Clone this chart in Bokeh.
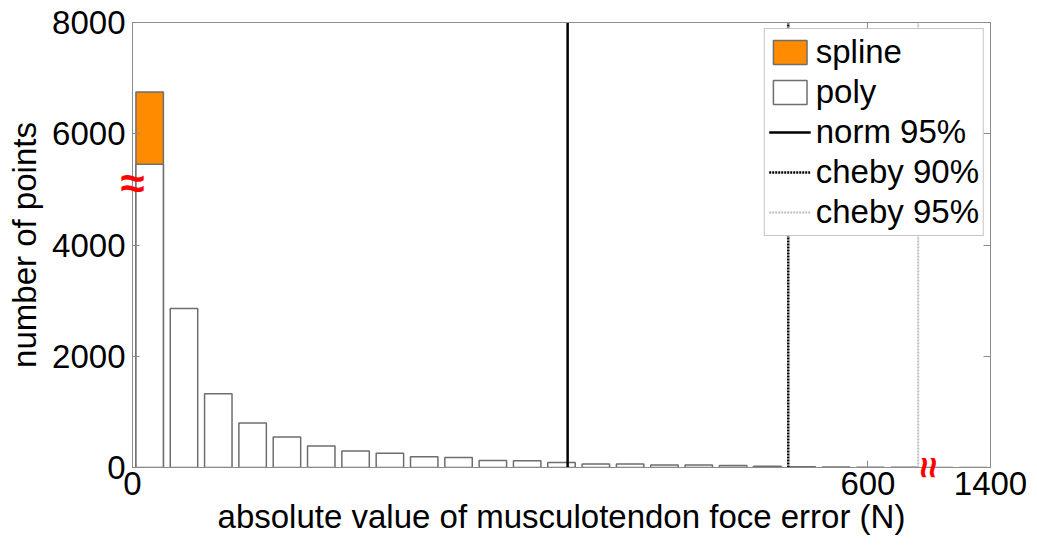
import math

from bokeh.plotting import figure
from bokeh.models import (LinearAxis, FixedTicker, Range1d, Legend, LegendItem, Label)
from bokeh.embed import file_html
from bokeh.resources import INLINE

# Histogram of absolute musculotendon force error, bins of 28 N
bin_width = 28
poly_counts = [5450, 2860, 1325, 800, 550, 385, 295, 258, 192, 180, 126, 120,
               90, 65, 65, 47, 45, 36, 23, 15, 10, 6, 3, 2, 1]
spline_counts = [6750]

# Confidence thresholds (N)
norm_95 = 355
cheby_90 = 535
cheby_95 = 641

# Axis ticks (the right end of the x axis sits past a break)
x_ticks = [0, 600, 700]
x_tick_labels = ["0", "600", "1400"]
y_ticks = [0, 2000, 4000, 6000, 8000]

# Where the axis breaks are marked
y_break = 5130
x_break = 649

FONT = "Liberation Sans"
FS = "33px"
EDGE = "#6e6e6e"
AXIS = "#8c8c8c"

poly_x = [(i + 0.5) * bin_width for i in range(len(poly_counts))]
spline_x = [(i + 0.5) * bin_width for i in range(len(spline_counts))]

p = figure(width=1037, height=547, output_backend="svg", toolbar_location=None,
           x_range=Range1d(0, len(poly_counts) * bin_width),
           y_range=Range1d(0, 8000),
           min_border_left=132, min_border_right=47,
           min_border_top=22, min_border_bottom=80)
p.grid.visible = False
p.outline_line_color = AXIS
p.background_fill_color = "white"
p.border_fill_color = "white"

r_spline = p.vbar(x=spline_x, top=spline_counts, width=0.8 * bin_width,
                  fill_color="#ff8c00", line_color=EDGE, line_width=1.5)
r_poly = p.vbar(x=poly_x, top=poly_counts, width=0.8 * bin_width,
                fill_color="white", line_color=EDGE, line_width=1.5)

ymax = p.y_range.end
r_norm = p.segment(x0=[norm_95], y0=[0], x1=[norm_95], y1=[ymax],
                   line_color="black", line_width=2.5)
r_c90 = p.segment(x0=[cheby_90], y0=[0], x1=[cheby_90], y1=[ymax],
                  line_color="black", line_width=2.5, line_dash="2 1")
r_c95 = p.segment(x0=[cheby_95], y0=[0], x1=[cheby_95], y1=[ymax],
                  line_color="#bdbdbd", line_width=2, line_dash="2 1")


def style_axis(ax, labels=True):
    ax.axis_line_color = AXIS
    ax.major_tick_line_color = AXIS
    ax.major_tick_in = 7
    ax.major_tick_out = 0
    ax.minor_tick_in = 0
    ax.minor_tick_out = 0
    ax.major_label_text_font = FONT
    ax.major_label_text_color = "black"
    ax.axis_label_text_font = FONT
    ax.axis_label_text_font_size = FS
    ax.axis_label_text_font_style = "normal"
    ax.axis_label_text_color = "black"
    if labels:
        ax.major_label_text_font_size = FS
    else:
        # tick marks only on the mirrored axes
        ax.major_label_text_color = None
        ax.major_label_text_font_size = "0px"
        ax.major_label_standoff = 0


p.xaxis.ticker = FixedTicker(ticks=x_ticks)
p.xaxis.major_label_overrides = dict(zip(x_ticks, x_tick_labels))
p.xaxis.axis_label = "absolute value of musculotendon foce error (N)"
p.xaxis.major_label_standoff = 4
p.xaxis.axis_label_standoff = 0
style_axis(p.xaxis[0])

p.yaxis.ticker = FixedTicker(ticks=y_ticks)
p.yaxis.axis_label = "number of points"
p.yaxis.major_label_standoff = 7
p.yaxis.axis_label_standoff = 6
style_axis(p.yaxis[0])

top = LinearAxis(ticker=FixedTicker(ticks=x_ticks))
style_axis(top, labels=False)
p.add_layout(top, "above")
right = LinearAxis(ticker=FixedTicker(ticks=y_ticks))
style_axis(right, labels=False)
p.add_layout(right, "right")

# Axis break marks; kept in the roomy right/top panels so they are not
# clipped to the frame and can straddle the axis lines
p.add_layout(Label(x=0, y=y_break, text="≈", text_color="red",
                   text_font=FONT, text_font_size="44px", text_font_style="bold",
                   text_align="center", text_baseline="middle"), "right")
p.add_layout(Label(x=x_break, y=0, text="≈", text_color="red", angle=math.pi / 2,
                   text_font=FONT, text_font_size="38px", text_font_style="bold",
                   text_align="center", text_baseline="middle"), "above")

legend = Legend(items=[
    LegendItem(label="spline", renderers=[r_spline]),
    LegendItem(label="poly", renderers=[r_poly]),
    LegendItem(label="norm 95%", renderers=[r_norm]),
    LegendItem(label="cheby 90%", renderers=[r_c90]),
    LegendItem(label="cheby 95%", renderers=[r_c95]),
], location="top_right")
legend.label_text_font = FONT
legend.label_text_font_size = FS
legend.label_text_color = "black"
legend.glyph_width = 42
legend.glyph_height = 30
legend.label_standoff = 5
legend.spacing = 2
legend.padding = 4
legend.margin = 6
legend.border_line_color = AXIS
legend.border_line_width = 1.5
legend.background_fill_color = "white"
legend.background_fill_alpha = 1
p.add_layout(legend, "center")

open("out.html", "w").write(file_html(p, INLINE))
